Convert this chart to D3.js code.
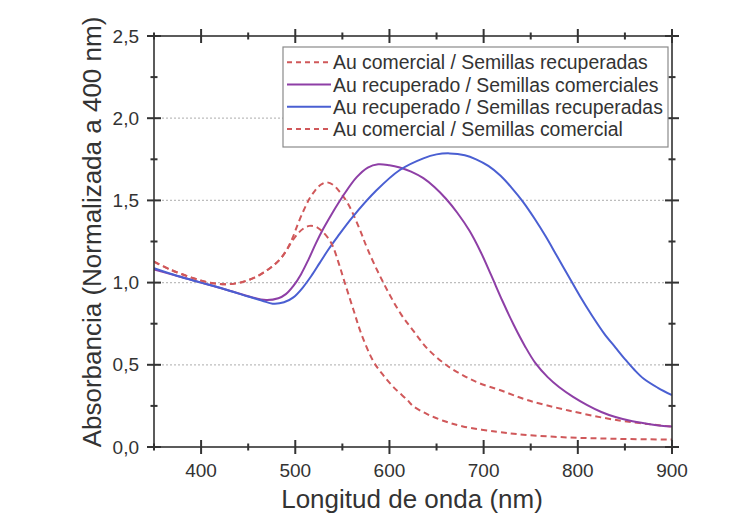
<!DOCTYPE html>
<html>
<head>
<meta charset="utf-8">
<script src="https://cdn.jsdelivr.net/npm/d3@7"></script>
<style>
  html, body { margin: 0; padding: 0; background: #fff; }
  svg { display: block; font-family: "Liberation Sans", Arial, sans-serif; }
</style>
</head>
<body>
<svg id="chart" width="745" height="514"></svg>
<script>
// ---- Data ----
const seriesNames = [
  "Au comercial / Semillas recuperadas",
  "Au recuperado / Semillas comerciales",
  "Au recuperado / Semillas recuperadas",
  "Au comercial / Semillas comercial"
];

// Au comercial / Semillas recuperadas (dashed, higher peak)
const comRecX = [350, 367, 390, 409, 427, 445, 460, 470, 478, 485, 491, 497, 503, 509, 515, 521, 527, 533, 540, 547, 556, 568, 577, 593, 612, 625, 640, 660, 680, 696, 717, 746, 788, 841, 900];
const comRecY = [1.127, 1.08, 1.03, 1.0, 0.99, 1.005, 1.04, 1.075, 1.11, 1.15, 1.2, 1.27, 1.36, 1.44, 1.51, 1.56, 1.595, 1.61, 1.595, 1.553, 1.48, 1.33, 1.2, 1.005, 0.81, 0.71, 0.60, 0.50, 0.43, 0.387, 0.347, 0.286, 0.225, 0.164, 0.124];

// Au recuperado / Semillas comerciales (solid purple)
const recComX = [350, 375, 400, 425, 452, 469, 482, 490, 498, 506, 514, 522, 530, 540, 551, 565, 577, 588, 600, 611, 623, 636, 648, 660, 672, 685, 697, 708, 720, 732, 744, 755, 768, 780, 795, 810, 825, 840, 858, 880, 900];
const recComY = [1.08, 1.04, 1.0, 0.96, 0.914, 0.894, 0.905, 0.93, 0.98, 1.05, 1.14, 1.24, 1.33, 1.43, 1.53, 1.64, 1.70, 1.72, 1.714, 1.70, 1.675, 1.635, 1.58, 1.51, 1.425, 1.315, 1.185, 1.045, 0.888, 0.742, 0.612, 0.51, 0.425, 0.365, 0.305, 0.255, 0.213, 0.182, 0.156, 0.136, 0.124];

// Au recuperado / Semillas recuperadas (solid blue)
const recRecX = [350, 375, 400, 425, 450, 465, 476, 488, 498, 508, 517, 526, 535, 545, 561, 586, 611, 636, 650, 664, 680, 692, 705, 718, 730, 742, 754, 766, 778, 790, 802, 815, 828, 840, 850, 860, 870, 885, 900];
const recRecY = [1.087, 1.04, 1.0, 0.96, 0.915, 0.89, 0.872, 0.88, 0.91, 0.97, 1.04, 1.12, 1.20, 1.28, 1.40, 1.56, 1.685, 1.756, 1.78, 1.786, 1.775, 1.75, 1.71, 1.65, 1.575, 1.49, 1.39, 1.28, 1.16, 1.04, 0.92, 0.80, 0.69, 0.605, 0.535, 0.47, 0.415, 0.36, 0.315];

// Au comercial / Semillas comercial (dashed, lower peak)
const comComX = [350, 367, 390, 409, 427, 445, 460, 470, 478, 485, 491, 497, 503, 509, 515, 522, 528, 535, 540, 546, 552, 562, 570, 583, 593, 605, 619, 625, 640, 657, 678, 714, 742, 790, 840, 900];
const comComY = [1.127, 1.08, 1.03, 1.0, 0.99, 1.005, 1.04, 1.075, 1.11, 1.15, 1.2, 1.255, 1.30, 1.33, 1.345, 1.34, 1.315, 1.27, 1.22, 1.12, 1.01, 0.83, 0.69, 0.52, 0.44, 0.36, 0.286, 0.25, 0.20, 0.16, 0.125, 0.093, 0.075, 0.058, 0.05, 0.045];

const xMajorTicks = [400, 500, 600, 700, 800, 900];
const xMinorTicks = [350, 450, 550, 650, 750, 850];
const yMajorTicks = [0, 0.5, 1.0, 1.5, 2.0, 2.5];
const yMinorTicks = [0.25, 0.75, 1.25, 1.75, 2.25];
const gridValues = [0.5, 1.0, 1.5, 2.0];

const xTitle = "Longitud de onda (nm)";
const yTitle = "Absorbancia (Normalizada a 400 nm)";

// ---- Layout ----
const svg = d3.select("#chart");
const L = 154, R = 672, T = 36, B = 447;
const x = d3.scaleLinear().domain([350, 900]).range([L, R]);
const y = d3.scaleLinear().domain([0, 2.5]).range([B, T]);
const axisColor = "#333";
const textColor = "#333";

// grid
svg.append("g").selectAll("line").data(gridValues).join("line")
  .attr("x1", L).attr("x2", R)
  .attr("y1", d => y(d)).attr("y2", d => y(d))
  .attr("stroke", "#bdbdbd").attr("stroke-width", 1.2)
  .attr("stroke-dasharray", "2,2");

// series
const series = [
  { name: seriesNames[0], xs: comRecX, ys: comRecY, color: "#d0585a", dash: "6,4", w: 2 },
  { name: seriesNames[1], xs: recComX, ys: recComY, color: "#8e3fa6", dash: null, w: 2 },
  { name: seriesNames[2], xs: recRecX, ys: recRecY, color: "#4a5fd2", dash: null, w: 2 },
  { name: seriesNames[3], xs: comComX, ys: comComY, color: "#d0585a", dash: "6,4", w: 2 }
];
const line = d3.line().x(d => x(d[0])).y(d => y(d[1])).curve(d3.curveCatmullRom.alpha(0.5));
svg.append("clipPath").attr("id", "plotclip").append("rect")
  .attr("x", L).attr("y", T).attr("width", R - L).attr("height", B - T);
const plot = svg.append("g").attr("clip-path", "url(#plotclip)");
series.forEach(s => {
  plot.append("path")
    .datum(s.xs.map((v, i) => [v, s.ys[i]]))
    .attr("d", line)
    .attr("fill", "none")
    .attr("stroke", s.color)
    .attr("stroke-width", s.w)
    .attr("stroke-dasharray", s.dash);
});

// frame
svg.append("rect").attr("x", L).attr("y", T).attr("width", R - L).attr("height", B - T)
  .attr("fill", "none").attr("stroke", axisColor).attr("stroke-width", 1.6);

// crossing ticks on all four sides
const maj = 7, minr = 3.5;
const ticks = svg.append("g");
function tickLines(data, isX, pos, len, w) {
  ticks.append("g").selectAll("line").data(data).join("line")
    .attr("x1", d => isX ? x(d) : pos - len)
    .attr("x2", d => isX ? x(d) : pos + len)
    .attr("y1", d => isX ? pos - len : y(d))
    .attr("y2", d => isX ? pos + len : y(d))
    .attr("stroke", axisColor)
    .attr("stroke-width", w);
}
[B, T].forEach(p => { tickLines(xMajorTicks, true, p, maj, 2); tickLines(xMinorTicks, true, p, minr, 2); });
[L, R].forEach(p => { tickLines(yMajorTicks, false, p, maj, 2); tickLines(yMinorTicks, false, p, minr, 2); });

// tick labels
const fmt = d => d3.format(".1f")(d).replace(".", ",");
svg.append("g").selectAll("text").data(xMajorTicks).join("text")
  .attr("x", d => x(d)).attr("y", 477)
  .attr("text-anchor", "middle").attr("font-size", 19).attr("fill", textColor)
  .text(d => d);
svg.append("g").selectAll("text").data(yMajorTicks).join("text")
  .attr("x", 139).attr("y", d => y(d) + 6.5)
  .attr("text-anchor", "end").attr("font-size", 19).attr("fill", textColor)
  .text(fmt);

// axis titles
svg.append("text").attr("x", 412).attr("y", 508)
  .attr("text-anchor", "middle").attr("font-size", 26).attr("fill", textColor)
  .text(xTitle);
svg.append("text").attr("transform", `translate(101,232) rotate(-90)`)
  .attr("text-anchor", "middle").attr("font-size", 26).attr("fill", textColor)
  .text(yTitle);

// legend
const lg = svg.append("g");
lg.append("rect").attr("x", 283).attr("y", 47).attr("width", 385).attr("height", 100)
  .attr("fill", "#fff").attr("stroke", "#8a8a8a").attr("stroke-width", 1.2);
series.forEach((s, i) => {
  const yy = 62.3 + i * 22.2;
  lg.append("line").attr("x1", 287).attr("x2", 331).attr("y1", yy).attr("y2", yy)
    .attr("stroke", s.color).attr("stroke-width", 2).attr("stroke-dasharray", s.dash ? "5,4" : null);
  lg.append("text").attr("x", 333).attr("y", yy + 7)
    .attr("font-size", 19.4).attr("fill", textColor).text(s.name);
});
</script>
</body>
</html>
